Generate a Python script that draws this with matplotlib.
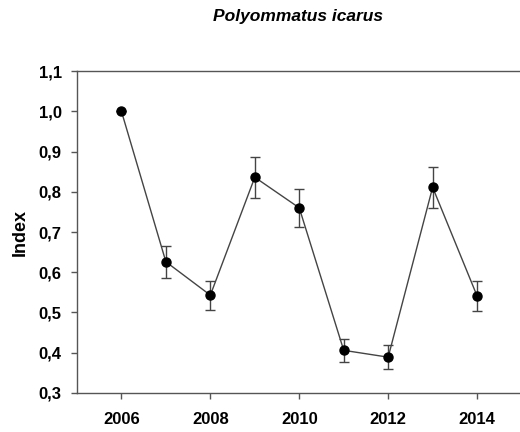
import numpy as np
import matplotlib
matplotlib.use('Agg')
import matplotlib.pyplot as plt
from matplotlib.ticker import FuncFormatter

years = [2006, 2007, 2008, 2009, 2010, 2011, 2012, 2013, 2014]
index = [1.0, 0.626, 0.543, 0.836, 0.760, 0.406, 0.389, 0.811, 0.541]
err = [0.0, 0.040, 0.036, 0.051, 0.048, 0.029, 0.029, 0.051, 0.037]

xticks = [2006, 2008, 2010, 2012, 2014]
yticks = [0.3, 0.4, 0.5, 0.6, 0.7, 0.8, 0.9, 1.0, 1.1]

plt.rcParams['font.family'] = ['Liberation Sans', 'DejaVu Sans']

fig = plt.figure(figsize=(5.2, 4.32), dpi=100)
ax = fig.add_axes([0.148, 0.0903, 0.855, 0.7453])

ax.errorbar(years, index, yerr=err, color='#444444', lw=1.0, elinewidth=1.0,
            capsize=3.6, capthick=1.0, marker='o', markersize=6.5,
            markerfacecolor='black', markeredgecolor='black', zorder=3)

ax.set_xlim(2005, 2015)
ax.set_ylim(0.3, 1.1)
ax.set_xticks(xticks)
ax.set_yticks(yticks)
ax.yaxis.set_major_formatter(FuncFormatter(lambda v, p: ('%.1f' % v).replace('.', ',')))

for s in ['left', 'bottom', 'top']:
    ax.spines[s].set_color('#555555')
    ax.spines[s].set_linewidth(1.0)
ax.spines['right'].set_visible(False)

ax.tick_params(direction='out', length=4, width=1, color='#555555',
               labelsize=12)
ax.tick_params(axis='x', pad=10)
ax.tick_params(axis='y', pad=7)
for lab in ax.get_xticklabels() + ax.get_yticklabels():
    lab.set_fontweight('bold')

ax.set_ylabel('Index', fontsize=13, fontweight='bold', labelpad=7)
fig.text(0.574, 0.962, 'Polyommatus icarus', ha='center', va='center',
         fontsize=12.5, fontweight='bold', fontstyle='italic')

fig.savefig('out.png', dpi=100)
